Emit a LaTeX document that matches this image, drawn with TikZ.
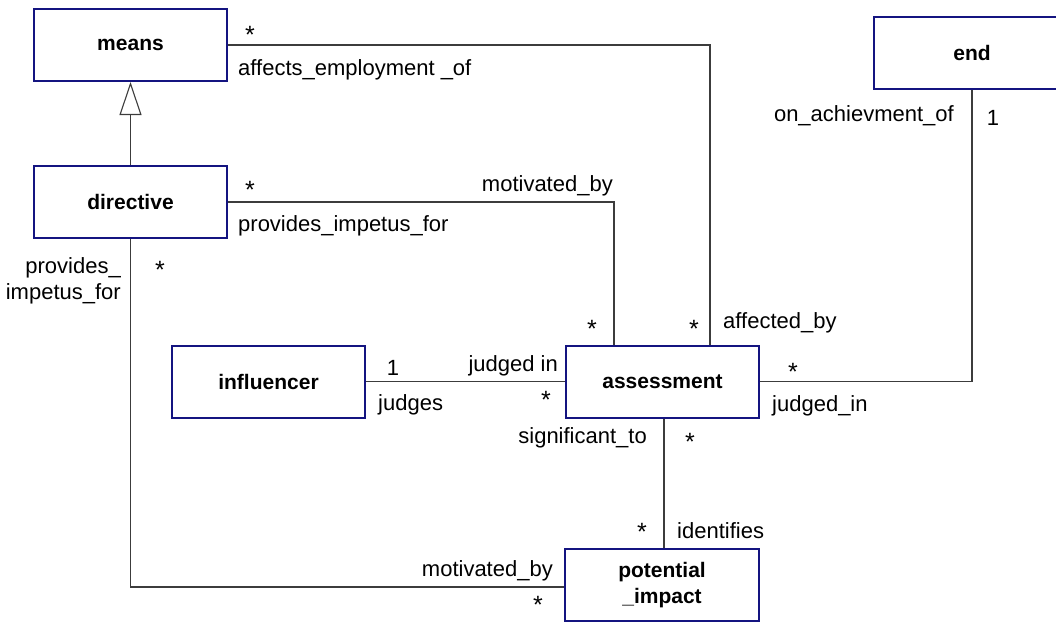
\documentclass[tikz,border=0pt]{standalone}
\usepackage{fontspec}
\setmainfont{Liberation Sans}
\usetikzlibrary{arrows.meta}
\definecolor{boxblue}{RGB}{20,20,128}
\definecolor{wire}{RGB}{60,60,60}
\tikzset{
  cls/.style={draw=boxblue, line width=2pt, fill=white, minimum width=193pt,
    minimum height=72pt, inner sep=0pt, align=center,
    font=\fontsize{21}{26}\selectfont\bfseries},
  assoc/.style={draw=wire, line width=1.1pt},
  lbl/.style={inner sep=0pt, font=\fontsize{22}{26}\selectfont},
  mult/.style={inner sep=0pt, font=\fontsize{25}{26}\selectfont},
}
\begin{document}
\begin{tikzpicture}[x=1pt,y=-1pt]
\useasboundingbox (0,0) rectangle (1056,621);
\clip (0,0) rectangle (1056,621);

% classes
\node[cls] (means)      at (130.5,45)  {means};
\node[cls] (directive)  at (130.5,202) {directive};
\node[cls] (influencer) at (268.5,381.5) {influencer};
\node[cls] (assessment) at (662.5,381.5) {assessment};
\node[cls, minimum width=194pt] (potential) at (662,585) {potential\\\_impact};
\node[cls, minimum width=196pt] (end) at (972,53) {end};

% generalization
\draw[assoc, -{Triangle[open, length=33pt, width=22pt, line width=1.1pt]}]
  (directive.north) -- (means.south);

% associations
\draw[assoc] (means.east) -| ([xshift=47.5pt]assessment.north);
\draw[assoc] (directive.east) -| ([xshift=-48.5pt]assessment.north);
\draw[assoc] (directive.south) |- ([yshift=-2pt]potential.west);
\draw[assoc] (influencer.east) -- (assessment.west);
\draw[assoc] (assessment.east) -| (end.south);
\draw[assoc] ([xshift=1.5pt]assessment.south) -- ([xshift=2pt]potential.north);

% multiplicities and role names
\node[mult] (m1) at (250,35) {*};
\node[lbl, anchor=west] (r1) at (238,70) {affects\_employment \_of};
\node[mult] (m2) at (250,190) {*};
\node[lbl, anchor=east] (r2) at (613,186) {motivated\_by};
\node[lbl, anchor=west] (r3) at (238,226) {provides\_impetus\_for};
\node[lbl, anchor=east, align=right] (r4) at (121,281) {provides\_\\impetus\_for};
\node[mult] (m3) at (160,270) {*};
\node[mult] (m4) at (592,329) {*};
\node[mult] (m5) at (694,329) {*};
\node[lbl, anchor=west] (r5) at (723,323) {affected\_by};
\node[lbl] (m6) at (393,368) {1};
\node[lbl, anchor=east] (r6) at (558,366) {judged in};
\node[lbl, anchor=west] (r7) at (378,405) {judges};
\node[mult] (m7) at (546,400) {*};
\node[mult] (m8) at (793,372) {*};
\node[lbl, anchor=west] (r8) at (772,406) {judged\_in};
\node[lbl, anchor=east] (r9) at (954,116) {on\_achievment\_of};
\node[lbl] (m9) at (993,118) {1};
\node[lbl, anchor=east] (r10) at (647,438) {significant\_to};
\node[mult] (m10) at (690,442) {*};
\node[mult] (m11) at (642,532) {*};
\node[lbl, anchor=west] (r11) at (677,531) {identifies};
\node[lbl, anchor=east] (r12) at (553,571) {motivated\_by};
\node[mult] (m12) at (538,605) {*};
\end{tikzpicture}
\end{document}
